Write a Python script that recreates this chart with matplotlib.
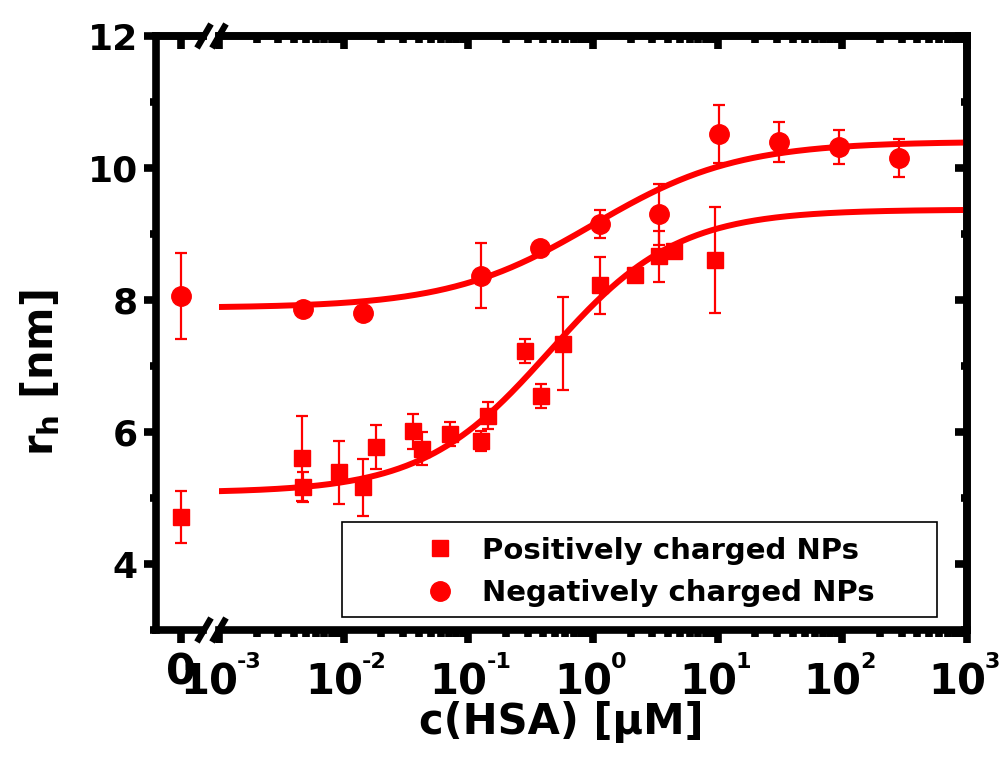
import matplotlib
matplotlib.use("Agg")
import matplotlib.pyplot as plt
import numpy as np
from matplotlib.lines import Line2D
from matplotlib.patches import Rectangle
from matplotlib.ticker import LogLocator, MultipleLocator, NullFormatter

plt.rcParams["font.family"] = ["DejaVu Sans"]
plt.rcParams["font.weight"] = "bold"
plt.rcParams["mathtext.fontset"] = "dejavusans"
plt.rcParams["mathtext.default"] = "bf"

RED = "#ff0000"

# positively charged NPs: c(HSA) [uM], r_h [nm], error
pos_c = [0.0046, 0.0047, 0.0091, 0.0142, 0.0182, 0.036, 0.0425, 0.0716,
         0.126, 0.143, 0.286, 0.38, 0.57, 1.14, 2.17, 3.40, 4.48, 9.55]
pos_r = [5.60, 5.17, 5.39, 5.16, 5.77, 6.01, 5.75, 5.97,
         5.86, 6.25, 7.23, 6.55, 7.34, 8.22, 8.38, 8.66, 8.75, 8.61]
pos_err = [0.64, 0.23, 0.48, 0.43, 0.33, 0.26, 0.25, 0.18,
           0.15, 0.21, 0.18, 0.18, 0.71, 0.43, 0.05, 0.38, 0.05, 0.80]

# negatively charged NPs
neg_c = [0.0047, 0.0142, 0.126, 0.378, 1.14, 3.40, 10.3, 31.2, 94.5, 285]
neg_r = [7.87, 7.81, 8.37, 8.79, 9.15, 9.30, 10.52, 10.39, 10.32, 10.15]
neg_err = [0.05, 0.05, 0.49, 0.05, 0.21, 0.46, 0.44, 0.30, 0.26, 0.29]

# values without HSA (drawn at "0")
pos_zero = (4.71, 0.39)
neg_zero = (8.06, 0.65)

# Hill fits: r0, rmax, K [uM], n
pos_fit = (5.08, 9.37, 0.45, 0.85)
neg_fit = (7.88, 10.40, 1.0, 0.75)

legend_labels = ["Positively charged NPs", "Negatively charged NPs"]
decades = [-3, -2, -1, 0, 1, 2, 3]


def hill(c, r0, rmax, k, n):
    return r0 + (rmax - r0) * c**n / (k**n + c**n)


W, H = 999, 760
SPINE = 5.5


def fx(x):
    return x / W


def fy(y):
    return 1 - y / H


fig = plt.figure(figsize=(W / 100, H / 100), dpi=100)
ax0 = fig.add_axes([fx(156), fy(630), (203 - 156) / W, 594 / H])
ax1 = fig.add_axes([fx(219), fy(630), (967 - 219) / W, 594 / H], sharey=ax0)

ebar = dict(ls="none", color=RED, ecolor=RED, elinewidth=1.6, capsize=4.5,
            capthick=1.6)

# zero-concentration segment
ax0.errorbar([0], [pos_zero[0]], yerr=[pos_zero[1]], marker="s", ms=12, **ebar)
ax0.errorbar([0], [neg_zero[0]], yerr=[neg_zero[1]], marker="o", ms=14, **ebar)
ax0.set_xlim(-1.05, 0.95)
ax0.set_ylim(3, 12)
ax0.set_xticks([0], ["0"])
ax0.yaxis.set_major_locator(MultipleLocator(2))
ax0.yaxis.set_minor_locator(MultipleLocator(1))
ax0.spines["right"].set_visible(False)
for s in ("left", "top", "bottom"):
    ax0.spines[s].set_linewidth(SPINE)
ax0.tick_params(which="major", direction="out", length=9, width=SPINE)
ax0.tick_params(which="minor", direction="out", length=4, width=SPINE)
ax0.tick_params(axis="y", labelsize=26, pad=4)
ax0.tick_params(axis="x", labelsize=31, pad=6.5)
ax0.tick_params(axis="x", which="minor", bottom=False)
top0 = ax0.secondary_xaxis("top")
top0.set_xticks([0])
top0.tick_params(direction="in", length=9, width=SPINE, labeltop=False)
top0.spines["top"].set_linewidth(SPINE)

# log segment
fit_c = np.logspace(-3, 3, 400)
ax1.plot(fit_c, hill(fit_c, *pos_fit), color=RED, lw=4.3)
ax1.plot(fit_c, hill(fit_c, *neg_fit), color=RED, lw=4.3)
ax1.errorbar(pos_c, pos_r, yerr=pos_err, marker="s", ms=12, **ebar)
ax1.errorbar(neg_c, neg_r, yerr=neg_err, marker="o", ms=14, **ebar)
ax1.set_xscale("log")
ax1.set_xlim(1e-3, 1e3)
ax1.set_xticks([10.0**d for d in decades], ["" for d in decades])
ax1.xaxis.set_minor_locator(LogLocator(base=10, subs=np.arange(2, 10), numticks=20))
ax1.xaxis.set_minor_formatter(NullFormatter())
ax1.spines["left"].set_visible(False)
for s in ("right", "top", "bottom"):
    ax1.spines[s].set_linewidth(SPINE)
ax1.tick_params(axis="y", which="both", left=False, labelleft=False)
ax1.tick_params(axis="x", which="major", direction="out", length=9, width=SPINE)
ax1.tick_params(axis="x", which="minor", direction="out", length=5, width=SPINE)

# decade labels: "10" with a small raised exponent
for d in decades:
    ax1.annotate("10", xy=(10.0**d, 0), xycoords=("data", "axes fraction"),
                 xytext=(-7, -22.8), textcoords="offset points",
                 ha="center", va="top", fontsize=30, fontweight="bold")
    ax1.annotate(str(d), xy=(10.0**d, 0), xycoords=("data", "axes fraction"),
                 xytext=(13, -15.8), textcoords="offset points",
                 ha="left", va="top", fontsize=16, fontweight="bold")

top1 = ax1.secondary_xaxis("top")
top1.xaxis.set_major_locator(LogLocator(base=10, numticks=20))
top1.xaxis.set_minor_locator(LogLocator(base=10, subs=np.arange(2, 10), numticks=20))
top1.xaxis.set_major_formatter(NullFormatter())
top1.xaxis.set_minor_formatter(NullFormatter())
top1.tick_params(which="major", direction="in", length=9, width=SPINE)
top1.tick_params(which="minor", direction="in", length=5, width=SPINE)
top1.spines["top"].set_linewidth(SPINE)

right1 = ax1.secondary_yaxis("right")
right1.yaxis.set_major_locator(MultipleLocator(2))
right1.yaxis.set_minor_locator(MultipleLocator(1))
right1.tick_params(which="major", direction="in", length=9, width=SPINE,
                   labelright=False)
right1.tick_params(which="minor", direction="in", length=4, width=SPINE)
right1.spines["right"].set_linewidth(SPINE)

# axis break marks
for yc in (36, 630):
    for xc in (204, 219):
        fig.add_artist(Line2D([fx(xc - 7), fx(xc + 7)], [fy(yc + 12), fy(yc - 12)],
                              transform=fig.transFigure, color="black", lw=4.5,
                              solid_capstyle="butt"))

fig.text(fx(561), fy(722), "c(HSA) [µM]", ha="center", va="center",
         fontsize=30, fontweight="bold")
fig.text(fx(40), fy(373), r"$r_h$ [nm]", ha="center", va="center",
         rotation=90, fontsize=30, fontweight="bold")

# legend
fig.add_artist(Rectangle((fx(342), fy(617)), 595 / W, 95 / H,
                         transform=fig.transFigure, facecolor="white",
                         edgecolor="black", lw=1.2))
handles = [
    Line2D([], [], ls="none", marker="s", ms=12, color=RED),
    Line2D([], [], ls="none", marker="o", ms=14, color=RED),
]
fig.legend(handles, legend_labels, loc="center left",
           bbox_to_anchor=(fx(425), fy(572)), frameon=False, fontsize=21,
           handlelength=1.0, handletextpad=0.97, labelspacing=0.5,
           borderpad=0.0, borderaxespad=0.0)

fig.savefig("out.png", dpi=100)
